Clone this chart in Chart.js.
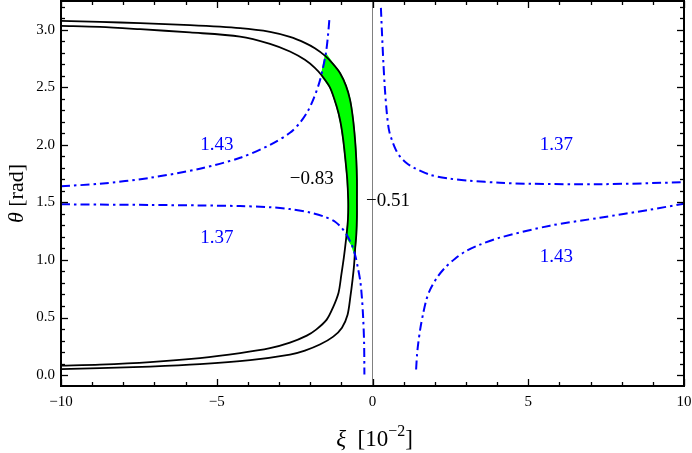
<!DOCTYPE html>
<html><head><meta charset="utf-8">
<script src="https://cdn.jsdelivr.net/npm/chart.js@4"></script>
<style>html,body{margin:0;padding:0;background:#fff}</style>
</head><body>
<canvas id="c" width="692" height="453" style="width:692px;height:453px"></canvas>
<script>
// ---- axis ranges and ticks ----
const X_MIN = -10, X_MAX = 10, Y_MIN = -0.095, Y_MAX = 3.25;
const xTickValues = [-10,-9,-8,-7,-6,-5,-4,-3,-2,-1,0,1,2,3,4,5,6,7,8,9,10];
const yTickValues = [0,0.1,0.2,0.3,0.4,0.5,0.6,0.7,0.8,0.9,1.0,1.1,1.2,1.3,1.4,1.5,1.6,1.7,1.8,1.9,2.0,2.1,2.2,2.3,2.4,2.5,2.6,2.7,2.8,2.9,3.0,3.1,3.2];

// ---- black contours (-0.51 outer, -0.83 inner) ----
const outerX = [-10, -8.75, -7.46, -5.86, -4.25, -3.29, -2.65, -2.17, -1.85, -1.52, -1.27, -1.04, -0.85, -0.72, -0.63, -0.56, -0.52, -0.50, -0.50, -0.50, -0.52, -0.56, -0.59, -0.64, -0.71, -0.80, -0.98, -1.26, -1.69, -2.17, -2.65, -3.93, -5.54, -7.14, -8.75, -10];
const outerY = [3.077, 3.069, 3.057, 3.040, 3.014, 2.982, 2.938, 2.886, 2.839, 2.773, 2.704, 2.623, 2.513, 2.391, 2.235, 2.044, 1.871, 1.697, 1.523, 1.378, 1.220, 1.089, 0.959, 0.829, 0.681, 0.525, 0.412, 0.334, 0.265, 0.213, 0.178, 0.130, 0.095, 0.074, 0.061, 0.052];
const innerX = [-10, -8.75, -7.46, -5.86, -4.25, -3.29, -2.65, -2.17, -1.85, -1.62, -1.36, -1.15, -1.03, -0.94, -0.87, -0.81, -0.78, -0.78, -0.80, -0.85, -0.92, -1.00, -1.09, -1.27, -1.47, -1.81, -2.11, -2.65, -3.29, -4.25, -5.54, -7.14, -8.75, -10];
const innerY = [3.034, 3.025, 3.005, 2.977, 2.941, 2.878, 2.811, 2.739, 2.669, 2.600, 2.496, 2.333, 2.201, 2.044, 1.871, 1.697, 1.523, 1.411, 1.306, 1.176, 1.020, 0.872, 0.716, 0.586, 0.482, 0.395, 0.343, 0.282, 0.234, 0.191, 0.148, 0.113, 0.091, 0.082];

// ---- blue dash-dot contours ----
const aX = [-10, -8.75, -7.14, -5.54, -4.25, -3.29, -2.65, -2.33, -2.07, -1.88, -1.72, -1.59, -1.49, -1.43, -1.38];
const aY = [1.641, 1.662, 1.714, 1.793, 1.888, 2.0, 2.105, 2.192, 2.296, 2.409, 2.530, 2.669, 2.808, 2.947, 3.103];
const bX = [-10, -8.75, -7.14, -5.54, -4.25, -3.29, -2.65, -2.01, -1.52, -1.20, -0.98, -0.82, -0.67, -0.56, -0.47, -0.39, -0.34, -0.30, -0.27, -0.26];
const bY = [1.484, 1.481, 1.478, 1.474, 1.468, 1.458, 1.442, 1.412, 1.374, 1.332, 1.276, 1.215, 1.133, 1.046, 0.933, 0.812, 0.673, 0.499, 0.282, 0.004];
const cX = [0.27, 0.30, 0.35, 0.40, 0.46, 0.53, 0.63, 0.75, 0.88, 1.08, 1.33, 1.85, 2.49, 3.13, 4.09, 5.06, 7.30, 10];
const cY = [3.19, 2.999, 2.710, 2.478, 2.276, 2.128, 2.036, 1.957, 1.899, 1.845, 1.801, 1.740, 1.706, 1.688, 1.671, 1.662, 1.658, 1.675];
const dX = [1.40, 1.43, 1.47, 1.54, 1.63, 1.73, 1.85, 2.07, 2.33, 2.65, 2.97, 3.45, 4.09, 5.70, 7.30, 8.91, 10];
const dY = [0.048, 0.178, 0.280, 0.412, 0.540, 0.655, 0.742, 0.846, 0.933, 1.011, 1.072, 1.133, 1.194, 1.298, 1.367, 1.437, 1.489];

// ---- green allowed region ----
const gX = [-1.50, -1.27, -1.04, -0.85, -0.72, -0.63, -0.56, -0.52, -0.50, -0.50, -0.50, -0.52, -0.56, -0.565, -0.67, -0.835, -0.80, -0.78, -0.78, -0.81, -0.87, -0.94, -1.03, -1.15, -1.36, -1.62, -1.59, -1.50];
const gY = [2.79, 2.704, 2.623, 2.513, 2.391, 2.235, 2.044, 1.871, 1.697, 1.523, 1.378, 1.220, 1.089, 1.046, 1.133, 1.202, 1.306, 1.411, 1.523, 1.697, 1.871, 2.044, 2.201, 2.333, 2.496, 2.600, 2.669, 2.79];

// ---- contour labels ----
const labelText = ['1.43', '1.37', '1.37', '1.43', '\u22120.83', '\u22120.51'];
const labelX = [-5.0, 5.9, -5.0, 5.9, -1.95, 0.5];
const labelY = [2.0, 2.0, 1.19, 1.03, 1.70, 1.51];

const pts = (xs, ys) => xs.map((v, i) => ({x: v, y: ys[i]}));
const BLUE = '#0000ff';
const dash = [9, 4, 2.5, 4];
const blueDs = (xs, ys) => ({data: pts(xs, ys), borderColor: BLUE, borderWidth: 2, borderDash: dash, tension: 0.3, pointRadius: 0, showLine: true, fill: false, order: 1});
const blackDs = (xs, ys) => ({data: pts(xs, ys), borderColor: '#000', borderWidth: 1.8, tension: 0.3, pointRadius: 0, showLine: true, fill: false, order: 2});

const SERIF = '"Liberation Serif", "DejaVu Serif", serif';

const framePlugin = {
  id: 'frameTicks',
  afterDatasetsDraw(chart) {
    const {ctx, scales: {x, y}} = chart;
    ctx.save();
    ctx.font = '19px ' + SERIF;
    ctx.textAlign = 'center';
    ctx.textBaseline = 'middle';
    labelText.forEach((t, i) => {
      ctx.fillStyle = t.startsWith('\u2212') ? '#000' : BLUE;
      ctx.fillText(t, x.getPixelForValue(labelX[i]), y.getPixelForValue(labelY[i]));
    });
    ctx.restore();
  },
  afterDraw(chart) {
    const {ctx, chartArea: a, scales: {x, y}} = chart;
    ctx.save();
    ctx.strokeStyle = '#000';
    ctx.lineWidth = 1.3;
    const seg = (x1, y1, x2, y2) => { ctx.beginPath(); ctx.moveTo(x1, y1); ctx.lineTo(x2, y2); ctx.stroke(); };
    xTickValues.forEach(v => {
      const px = Math.round(x.getPixelForValue(v)) + 0.5;
      const len = v % 5 === 0 ? 7 : 4;
      seg(px, a.bottom, px, a.bottom - len);
      seg(px, a.top, px, a.top + len);
    });
    yTickValues.forEach(v => {
      const py = Math.round(y.getPixelForValue(v)) + 0.5;
      const major = Math.abs(v * 2 - Math.round(v * 2)) < 1e-6;
      const len = major ? 7 : 4;
      seg(a.left, py, a.left + len, py);
      seg(a.right, py, a.right - len, py);
    });
    ctx.lineWidth = 2;
    ctx.strokeRect(a.left, a.top, a.right - a.left, a.bottom - a.top);

    // axis titles
    ctx.fillStyle = '#000';
    ctx.textBaseline = 'alphabetic';
    ctx.textAlign = 'left';
    const parts = [
      {t: '\u03be', f: 'italic 23px ' + SERIF, dy: 0},
      {t: '  [10', f: '23px ' + SERIF, dy: 0},
      {t: '\u22122', f: '16px ' + SERIF, dy: -10},
      {t: ']', f: '23px ' + SERIF, dy: 0}
    ];
    let w = 0;
    parts.forEach(p => { ctx.font = p.f; p.w = ctx.measureText(p.t).width; w += p.w; });
    let cx = (a.left + a.right) / 2 + 2 - w / 2;
    const by = 446;
    parts.forEach(p => { ctx.font = p.f; ctx.fillText(p.t, cx, by + p.dy); cx += p.w; });
    ctx.save();
    ctx.translate(23, (a.top + a.bottom) / 2);
    ctx.rotate(-Math.PI / 2);
    const yparts = [
      {t: '\u03b8', f: 'italic 22px ' + SERIF},
      {t: ' [rad]', f: '22px ' + SERIF}
    ];
    w = 0;
    yparts.forEach(p => { ctx.font = p.f; p.w = ctx.measureText(p.t).width; w += p.w; });
    cx = -w / 2;
    yparts.forEach(p => { ctx.font = p.f; ctx.fillText(p.t, cx, 0); cx += p.w; });
    ctx.restore();
    ctx.restore();
  }
};

new Chart(document.getElementById('c'), {
  type: 'scatter',
  data: {
    datasets: [
      blueDs(aX, aY), blueDs(bX, bY), blueDs(cX, cY), blueDs(dX, dY),
      blackDs(outerX, outerY), blackDs(innerX, innerY),
      {data: [{x: 0, y: Y_MIN}, {x: 0, y: Y_MAX}], borderColor: '#808080', borderWidth: 1, pointRadius: 0, showLine: true, fill: false, order: 4},
      {data: pts(gX, gY), borderColor: '#00ff00', borderWidth: 1.5, backgroundColor: '#00ff00', tension: 0.2, pointRadius: 0, showLine: true, fill: 'shape', order: 5}
    ]
  },
  options: {
    responsive: false,
    animation: false,
    layout: {padding: {left: 0, right: 8, top: 1, bottom: 0}},
    plugins: {legend: {display: false}, tooltip: {enabled: false}},
    scales: {
      x: {
        type: 'linear', min: X_MIN, max: X_MAX,
        grid: {display: false, drawTicks: false},
        border: {display: false},
        afterBuildTicks: s => { s.ticks = xTickValues.map(v => ({value: v})); },
        afterFit: s => { s.height = 67; s.paddingLeft = 0; s.paddingRight = 0; },
        ticks: {
          autoSkip: false, maxRotation: 0, padding: 7, color: '#000',
          font: {family: SERIF, size: 15},
          callback: v => (v % 5 === 0 ? (v < 0 ? '\u2212' + Math.abs(v) : String(v)) : '')
        }
      },
      y: {
        type: 'linear', min: Y_MIN, max: Y_MAX,
        grid: {display: false, drawTicks: false},
        border: {display: false},
        afterBuildTicks: s => { s.ticks = yTickValues.map(v => ({value: v})); },
        afterFit: s => { s.width = 61; s.paddingTop = 0; s.paddingBottom = 0; },
        ticks: {
          autoSkip: false, padding: 6, color: '#000',
          font: {family: SERIF, size: 15},
          callback: v => (Math.abs(v * 2 - Math.round(v * 2)) < 1e-6 ? v.toFixed(1) : '')
        }
      }
    }
  },
  plugins: [framePlugin]
});
</script>
</body></html>
